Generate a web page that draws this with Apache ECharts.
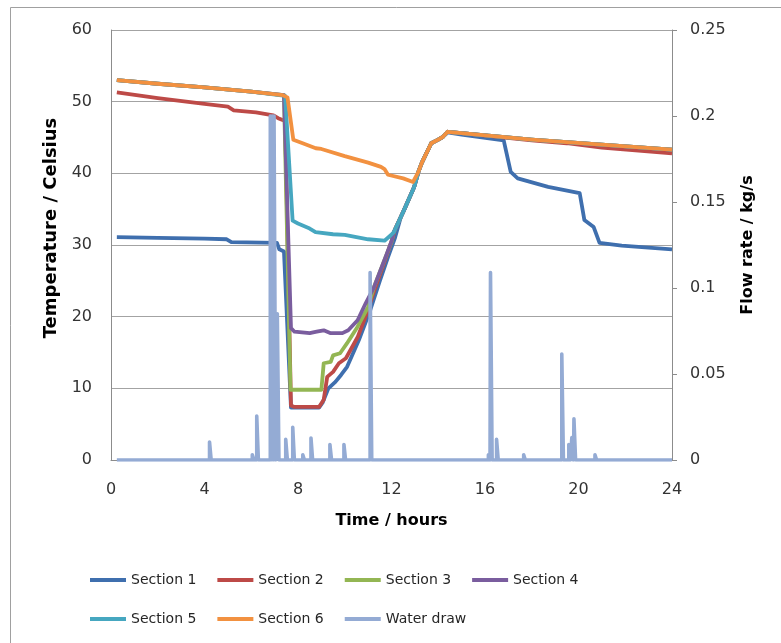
<!DOCTYPE html>
<html>
<head>
<meta charset="utf-8">
<script src="https://cdn.jsdelivr.net/npm/echarts@6/dist/echarts.min.js"></script>
<style>
  html, body { margin: 0; padding: 0; background: #ffffff; }
  #chart { width: 781px; height: 643px; }
</style>
</head>
<body>
<div id="chart"></div>
<script>
// Tank temperature by section over one day, [hour, °C]
const section1 = [[0.25,31.1],[2,31.0],[4,30.9],[4.95,30.8],[5.15,30.4],[7.1,30.3],[7.2,29.4],[7.4,29.1],[7.7,7.3],[8.9,7.3],[9.05,8.0],[9.3,10.0],[9.6,10.9],[9.85,11.9],[10.1,13.0],[10.6,16.7],[11.1,21.0],[11.5,25.0],[11.85,28.3],[12.15,31.0],[12.4,33.9],[12.54,34.9],[12.97,38.1],[13.15,40.2],[13.3,41.5],[13.7,44.2],[14.0,44.7],[14.2,45.1],[14.4,45.7],[15,45.4],[16.8,44.6],[17.1,40.2],[17.4,39.3],[18.7,38.1],[20.05,37.25],[20.25,33.5],[20.65,32.5],[20.9,30.3],[21.85,29.9],[24,29.4]];
const section2 = [[0.25,51.3],[2,50.5],[4,49.7],[5.0,49.3],[5.25,48.8],[6.2,48.5],[6.95,48.1],[7.15,47.7],[7.45,47.3],[7.7,7.6],[7.85,7.4],[8.9,7.4],[9.1,8.4],[9.25,11.6],[9.5,12.3],[9.75,13.5],[10.05,14.2],[10.56,17.2],[10.99,20.9],[11.3,24.0],[11.75,28.1],[12.05,31.0],[12.15,32.2],[12.54,34.9],[12.97,38.1],[13.15,40.2],[13.3,41.5],[13.7,44.2],[14.0,44.7],[14.2,45.1],[14.4,45.8],[15,45.6],[18,44.6],[19.5,44.2],[21,43.6],[24,42.8]];
const section3 = [[0.25,53.0],[2,52.5],[4,52.0],[6,51.4],[7.4,50.9],[7.68,9.8],[9.0,9.8],[9.1,13.5],[9.4,13.7],[9.5,14.6],[9.8,14.9],[10.1,16.3],[10.55,18.6],[10.99,21.3],[11.25,24.1],[11.7,27.9],[12.0,30.4],[12.1,31.8],[12.54,34.9],[12.97,38.1],[13.15,40.2],[13.3,41.5],[13.7,44.2],[14.0,44.7],[14.2,45.1],[14.4,45.8],[15,45.6],[18,44.7],[21,44.0],[24,43.3]];
const section4 = [[0.25,53.0],[2,52.5],[4,52.0],[6,51.4],[7.4,50.9],[7.7,18.4],[7.85,17.9],[8.5,17.7],[8.8,17.9],[9.1,18.1],[9.4,17.7],[9.9,17.7],[10.15,18.1],[10.55,19.5],[10.9,21.9],[11.25,24.1],[11.7,27.9],[12.0,30.5],[12.1,31.8],[12.54,34.9],[12.97,38.1],[13.15,40.2],[13.3,41.5],[13.7,44.2],[14.0,44.7],[14.2,45.1],[14.4,45.8],[15,45.6],[18,44.7],[21,44.0],[24,43.3]];
const section5 = [[0.25,53.0],[2,52.5],[4,52.0],[6,51.4],[7.45,50.8],[7.77,33.4],[8.0,33.0],[8.5,32.3],[8.75,31.8],[9.5,31.5],[10.0,31.4],[10.5,31.1],[11.0,30.8],[11.7,30.6],[11.98,31.4],[12.1,31.8],[12.54,34.9],[12.97,38.1],[13.15,40.2],[13.3,41.5],[13.7,44.2],[14.0,44.7],[14.2,45.1],[14.4,45.8],[15,45.6],[18,44.7],[21,44.0],[24,43.3]];
const section6 = [[0.25,53.0],[2,52.5],[4,52.0],[6,51.4],[7.35,50.9],[7.55,50.6],[7.8,44.7],[8.2,44.2],[8.76,43.5],[9,43.4],[10,42.4],[11,41.5],[11.55,40.9],[11.7,40.6],[11.85,39.8],[12.5,39.3],[12.92,38.8],[13.15,40.2],[13.3,41.5],[13.7,44.2],[14.0,44.7],[14.2,45.1],[14.4,45.8],[15,45.6],[18,44.7],[21,44.0],[24,43.3]];

// Hot water draw events, hour and flow rate in kg/s
const drawTimes = [4.25, 6.08, 6.27, 6.85, 6.93, 7.01, 7.15, 7.51, 7.81, 8.24, 8.59, 9.4, 10.0, 11.12, 16.18, 16.27, 16.53, 17.69, 19.32, 19.62, 19.75, 19.84, 20.74];
const drawRates = [0.0105, 0.003, 0.0256, 0.2, 0.2, 0.2, 0.085, 0.012, 0.019, 0.003, 0.0128, 0.009, 0.009, 0.109, 0.003, 0.109, 0.012, 0.003, 0.0616, 0.009, 0.013, 0.024, 0.003];

const seriesNames = ['Section 1', 'Section 2', 'Section 3', 'Section 4', 'Section 5', 'Section 6', 'Water draw'];
const seriesColors = ['#3f6fae', '#bd4a47', '#93b653', '#7a5d9e', '#46a7c0', '#f29140', '#94abd4'];
const sectionData = [section1, section2, section3, section4, section5, section6];

const hourTicks = { min: 0, max: 24, interval: 4 };
const tempTicks = { min: 0, max: 60, interval: 10 };
const flowTicks = { min: 0, max: 0.25, interval: 0.05 };

// Each draw is a narrow pulse on a zero baseline
function buildDrawProfile(times, rates, start, end) {
  const half = 0.035;
  const pts = [[start, 0]];
  times.forEach((t, i) => {
    pts.push([t - half, 0], [t - half, rates[i]], [t + half, rates[i]], [t + half, 0]);
  });
  pts.push([end, 0]);
  return pts;
}

const FONT = 'DejaVu Sans';
const chart = echarts.init(document.getElementById('chart'), null, { renderer: 'canvas' });

const series = sectionData.map((data, i) => ({
  name: seriesNames[i],
  type: 'line',
  yAxisIndex: 0,
  data: data,
  symbol: 'none',
  color: seriesColors[i],
  lineStyle: { width: 3.8, color: seriesColors[i], join: 'round' },
  z: 2 + i
}));
series.push({
  name: seriesNames[6],
  type: 'line',
  yAxisIndex: 1,
  data: buildDrawProfile(drawTimes, drawRates, 0.25, 24),
  symbol: 'none',
  color: seriesColors[6],
  lineStyle: { width: 3.6, color: seriesColors[6], join: 'round' },
  z: 10
});

const legendCommon = {
  orient: 'horizontal',
  icon: 'rect',
  padding: 0,
  itemWidth: 36,
  itemHeight: 4,
  itemGap: 21,
  textStyle: { fontFamily: FONT, fontSize: 14, color: '#262626' }
};

chart.setOption({
  animation: false,
  backgroundColor: '#ffffff',
  textStyle: { fontFamily: FONT },
  grid: { left: 111, right: 109, top: 30, bottom: 183 },
  graphic: [{
    type: 'rect',
    shape: { x: 10.5, y: 7.5, width: 820, height: 700 },
    style: { fill: 'none', stroke: '#a0a0a0', lineWidth: 1 },
    silent: true
  }],
  legend: [
    Object.assign({}, legendCommon, { left: 90, top: 573, data: seriesNames.slice(0, 4) }),
    Object.assign({}, legendCommon, { left: 90, top: 612, data: seriesNames.slice(4) })
  ],
  xAxis: {
    type: 'value',
    min: hourTicks.min, max: hourTicks.max, interval: hourTicks.interval,
    name: 'Time / hours',
    nameLocation: 'middle',
    nameGap: 53,
    nameTextStyle: { fontFamily: FONT, fontSize: 16, fontWeight: 'bold', color: '#000' },
    axisLine: { show: true, lineStyle: { color: '#8c8c8c', width: 1 } },
    axisTick: { show: false },
    axisLabel: { fontFamily: FONT, fontSize: 16, color: '#333', margin: 22 },
    splitLine: { show: false }
  },
  yAxis: [{
    type: 'value',
    position: 'left',
    min: tempTicks.min, max: tempTicks.max, interval: tempTicks.interval,
    name: 'Temperature / Celsius',
    nameLocation: 'middle',
    nameRotate: 90,
    nameGap: 50,
    nameTextStyle: { fontFamily: FONT, fontSize: 18, fontWeight: 'bold', color: '#000', padding: [0, 0, 0, 34] },
    axisLine: { show: true, lineStyle: { color: '#8c8c8c', width: 1 } },
    axisTick: { show: false },
    axisLabel: { fontFamily: FONT, fontSize: 16, color: '#333', margin: 19 },
    splitLine: { show: true, lineStyle: { color: '#a3a3a3', width: 1.2 } }
  }, {
    type: 'value',
    position: 'right',
    min: flowTicks.min, max: flowTicks.max, interval: flowTicks.interval,
    name: 'Flow rate / kg/s',
    nameLocation: 'middle',
    nameRotate: 90,
    nameGap: 68,
    nameTextStyle: { fontFamily: FONT, fontSize: 16, fontWeight: 'bold', color: '#000' },
    axisLine: { show: true, lineStyle: { color: '#8c8c8c', width: 1 } },
    axisTick: { show: true, inside: false, length: 5, lineStyle: { color: '#8c8c8c' } },
    axisLabel: { fontFamily: FONT, fontSize: 16, color: '#333', margin: 18 },
    splitLine: { show: false }
  }],
  series: series
});
</script>
</body>
</html>
